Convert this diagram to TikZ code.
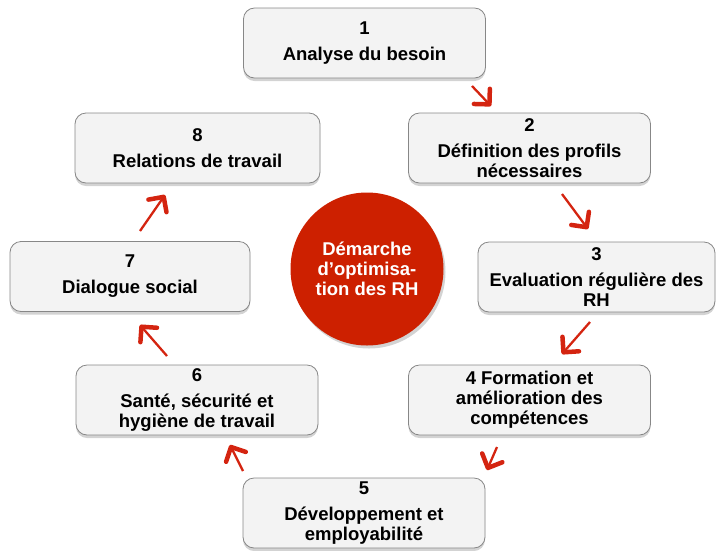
\documentclass[tikz,border=0pt]{standalone}
\usepackage{fontspec}
\setmainfont{Liberation Sans}
\usepackage{tikz}
\usetikzlibrary{positioning,arrows.meta,shadows}
\definecolor{boxbg}{RGB}{243,243,243}
\definecolor{boxline}{RGB}{135,135,135}
\definecolor{hubred}{RGB}{205,32,0}
\definecolor{arred}{RGB}{212,36,16}
\tikzset{
  blk/.style={draw=boxline,line width=0.8pt,rounded corners=11pt,fill=boxbg,align=center,
    font=\bfseries\fontsize{18.5}{20}\selectfont,minimum width=242pt,minimum height=70pt,inner sep=2pt,
    drop shadow={shadow xshift=0pt,shadow yshift=-3pt,opacity=0.35,fill=gray}},
  hub/.style={circle,fill=hubred,text=white,align=center,minimum size=153pt,inner sep=0pt,
    font=\bfseries\fontsize{18.5}{20}\selectfont,
    drop shadow={shadow xshift=2pt,shadow yshift=-3pt,opacity=0.35,fill=gray}},
  ar/.style={-{Straight Barb[length=11pt,width=22pt,line width=4.5pt,round]},line width=2.3pt,arred},
}
\begin{document}
\begin{tikzpicture}[x=1pt,y=-1pt]
  \useasboundingbox (0,0) rectangle (716,550);
  % cycle boxes
  \node[blk] (s1) at (364.5,43) {1\\[6pt]Analyse du besoin};
  \node[blk] (s2) at (529.5,148) {2\\[6pt]Définition des profils\\nécessaires};
  \node[blk,minimum width=237pt] (s3) at (596.5,277) {3\\[6pt]Evaluation régulière des\\RH};
  \node[blk] (s4) at (529.5,400) {4 Formation et\\amélioration des\\compétences};
  \node[blk] (s5) at (364,513) {5\\[6pt]Développement et\\employabilité};
  \node[blk] (s6) at (197,400) {6\\[6pt]Santé, sécurité et\\hygiène de travail};
  \node[blk,minimum width=240pt] (s7) at (130,276.5) {7\\[6pt]Dialogue social};
  \node[blk,minimum width=245pt] (s8) at (197.5,148) {8\\[6pt]Relations de travail};
  % centre
  \node[hub] (hub) at (367,269) {Démarche\\d’optimisa-\\tion des RH};
  % arrows between the steps
  \coordinate (t12) at (472,86);  \coordinate (h12) at (491,106);
  \coordinate (t23) at (562,194); \coordinate (h23) at (588,229);
  \coordinate (t34) at (590,322); \coordinate (h34) at (562,354);
  \coordinate (t45) at (497,447); \coordinate (h45) at (487,470);
  \coordinate (t56) at (243,471); \coordinate (h56) at (230,445);
  \coordinate (t67) at (167,356); \coordinate (h67) at (140,325);
  \coordinate (t78) at (140,231); \coordinate (h78) at (165,195);
  \foreach \a in {12,23,34,45,56,67,78}
    \draw[ar] (t\a) -- (h\a);
\end{tikzpicture}
\end{document}
